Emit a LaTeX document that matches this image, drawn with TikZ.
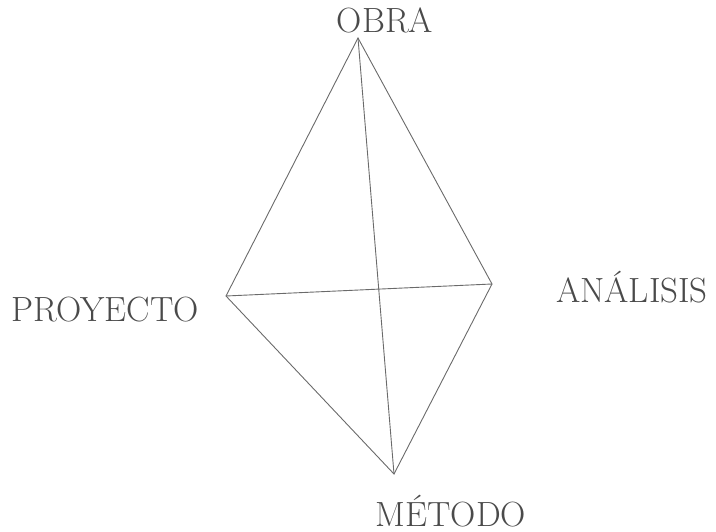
\documentclass[tikz,border=0pt]{standalone}
\usepackage{fontspec}
\definecolor{edgegray}{HTML}{6A6A6A}
\definecolor{textgray}{HTML}{4A4A4A}
\tikzset{
  edge/.style={draw=edgegray, line width=0.9pt},
  lbl/.style={text=textgray, anchor=base, inner sep=0pt, font=\fontsize{35}{40}\selectfont}
}
\begin{document}
\begin{tikzpicture}[x=1pt,y=-1pt]
\useasboundingbox (0,0) rectangle (716,532);
\coordinate (T) at (358,38);
\coordinate (L) at (226,296);
\coordinate (R) at (492,284);
\coordinate (B) at (394,474);
\draw[edge] (T) -- (L) -- (B) -- (R) -- cycle;
\draw[edge] (T) -- (B);
\draw[edge] (L) -- (R);
\node[lbl] (obra) at (385,33) {OBRA};
\node[lbl] (proy) at (105,321) {PROYECTO};
\node[lbl] (anal) at (632,303) {ANÁLISIS};
\node[lbl] (meto) at (451,526) {MÉTODO};
\end{tikzpicture}
\end{document}
